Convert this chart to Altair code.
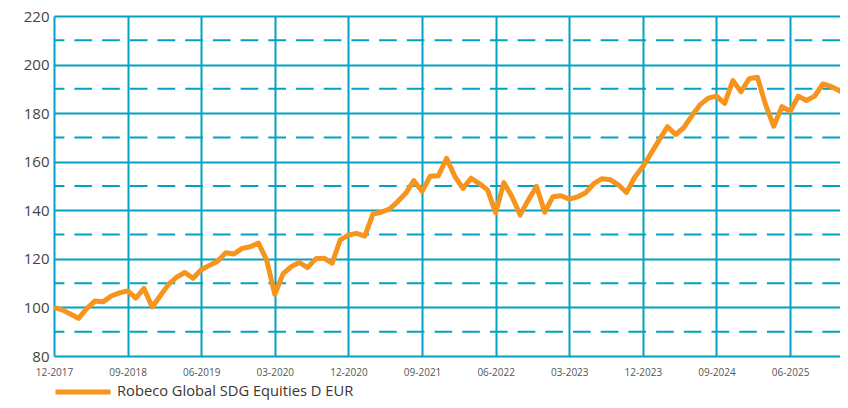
import altair as alt
import pandas as pd

# Monthly index values, Dec 2017 = 100
values = [
    100.0, 99.0, 97.3, 95.5, 99.5, 102.6, 102.3, 104.7, 106.0, 106.8,
    103.8, 107.8, 100.2, 104.8, 109.5, 112.5, 114.4, 112.0, 115.5, 117.3,
    119.0, 122.5, 122.0, 124.3, 125.0, 126.5, 119.5, 105.4, 113.8, 116.8,
    118.5, 116.4, 120.0, 120.3, 118.2, 127.8, 129.8, 130.5, 129.4, 138.5,
    139.2, 140.5, 143.5, 147.0, 152.2, 147.8, 154.0, 154.2, 161.4, 154.0,
    149.0, 153.2, 151.0, 148.4, 139.0, 151.4, 145.6, 138.1, 144.3, 149.8,
    139.2, 145.6, 146.0, 144.6, 145.5, 147.2, 151.0, 153.0, 152.6, 150.5,
    147.3, 153.6, 158.0, 163.5, 169.0, 174.4, 171.2, 174.0, 179.0, 183.5,
    186.2, 187.0, 184.0, 193.4, 188.8, 194.2, 194.8, 183.5, 174.6, 182.7,
    180.8, 187.0, 185.2, 187.0, 192.0, 191.0, 189.3, 186.8,
]
tick_labels = ["12-2017", "09-2018", "06-2019", "03-2020", "12-2020", "09-2021",
               "06-2022", "03-2023", "12-2023", "09-2024", "06-2025"]
tick_months = [0, 9, 18, 27, 36, 45, 54, 63, 72, 81, 90]
solid_levels = [80, 100, 120, 140, 160, 180, 200, 220]
dashed_levels = [90, 110, 130, 150, 170, 190, 210]
series_name = "Robeco Global SDG Equities D EUR"

df = pd.DataFrame({"month": list(range(len(values))), "value": values,
                   "series": series_name})
dash_df = pd.DataFrame({"level": dashed_levels})

teal = "#00A3C4"
orange = "#F7941D"
font = "Open Sans"

# The reference is cropped at the right edge: show about 96 months of the 97
x_scale = alt.Scale(domain=[0, 96.1], nice=False, zero=False)
y_scale = alt.Scale(domain=[80, 220], nice=False, zero=False)
label_expr = "[" + ",".join(f"'{t}'" for t in tick_labels) + "][round(datum.value/9)]"

y_axis = alt.Axis(values=solid_levels, grid=True, gridColor=teal,
                  gridWidth=2, gridOpacity=1, domain=False, ticks=False,
                  labelPadding=5, labelFont=font, labelFontSize=15,
                  labelColor="#444444")

dashed = alt.Chart(dash_df).mark_rule(
    color=teal, strokeWidth=2, strokeDash=[17.7, 10]
).encode(y=alt.Y("level:Q", scale=y_scale, title=None, axis=y_axis))

line = alt.Chart(df).mark_line(strokeWidth=5, strokeJoin="round", clip=True).encode(
    x=alt.X("month:Q", scale=x_scale, title=None,
            axis=alt.Axis(values=tick_months, labelExpr=label_expr, grid=True,
                          gridColor=teal, gridWidth=2, gridOpacity=1,
                          domain=False, ticks=False, labelPadding=11,
                          labelFlush=False,
                          labelFont=font, labelFontSize=10, labelColor="#555555",
                          labelAngle=0)),
    y=alt.Y("value:Q", scale=y_scale, title=None, axis=y_axis),
    color=alt.Color("series:N", scale=alt.Scale(domain=[series_name], range=[orange]),
                    legend=alt.Legend(title=None, orient="none", legendX=-1, legendY=346,
                                      symbolType="stroke", symbolSize=3025,
                                      symbolStrokeWidth=5, labelFont=font,
                                      labelFontSize=14.7, labelColor="#3b3530",
                                      labelOffset=4, labelLimit=0, padding=0)),
)

chart = alt.layer(dashed, line).properties(
    width=786, height=340,
    autosize=alt.AutoSizeParams(type="none"),
    padding={"left": 46, "top": 8, "right": 0, "bottom": 44},
).configure_view(stroke=None)

chart.save("out.html", embed_options={"renderer": "svg", "actions": False})
